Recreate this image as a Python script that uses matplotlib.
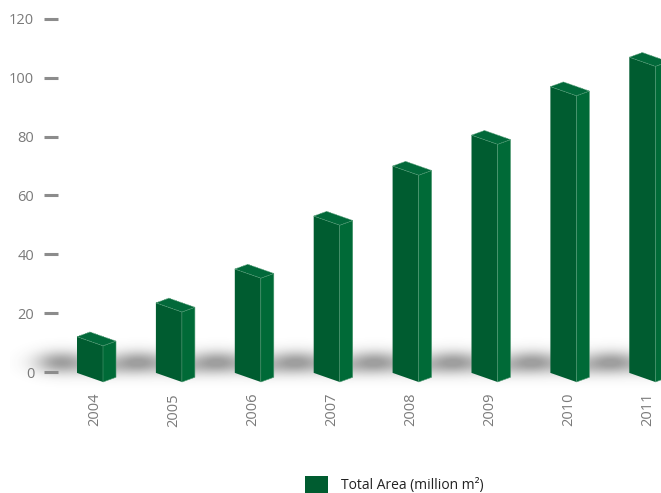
import numpy as np
import matplotlib.pyplot as plt
from matplotlib.patches import Polygon, Rectangle

years = ['2004', '2005', '2006', '2007', '2008', '2009', '2010', '2011']
total_area = [12, 23.5, 35, 53, 70, 80.5, 97, 107]
yticks = [0, 20, 40, 60, 80, 100, 120]
legend_label = 'Total Area (million m\u00b2)'

plt.rcParams['font.family'] = ['Open Sans', 'DejaVu Sans']

W, H = 661, 493
fig = plt.figure(figsize=(W / 100, H / 100), dpi=100)
left_px = 50.5
ax = fig.add_axes([left_px / W, 0, 1 - left_px / W, 1])

# pixel <-> data helpers (x: one slot = 78.9 px, y: 1 unit = 2.94 px)
slot = 78.9
ppu = 2.9417
ax.set_xlim((left_px - 95) / slot, (W - 95) / slot)
ax.set_ylim((372 - H) / ppu, 372 / ppu)
for s in ax.spines.values():
    s.set_visible(False)
ax.set_xticks([])
ax.set_yticks(yticks)
ax.tick_params(axis='y', direction='inout', length=9.4, width=2.2,
               color='#8c8c8c', labelcolor='#7a7a7a', labelsize=10.5, pad=7)

# soft ground shadow (drawn a bit outside the axes on the left)
xs = np.linspace((10 - 95) / slot, (W - 95) / slot, 800)
ys = np.linspace(-14, 20, 200)
X, Y = np.meshgrid(xs, ys)
yc = 3.0
shade = np.zeros_like(X)
for i, v in enumerate(total_area):
    cx = i - 0.45
    shade += 0.75 * np.exp(-((X - cx) / 0.32) ** 2 - ((Y - yc) / 3.8) ** 2)
    shade += 0.30 * np.exp(-((X - i - 0.1) / 0.30) ** 2 - ((Y - yc + 2.0) / 3.2) ** 2)
band = 0.28 * np.exp(-((Y - yc) / 4.0) ** 2)
band *= 1 / (1 + np.exp(-(X - (45 - 95) / slot) / 0.1))
shade = np.clip(shade + band, 0, 1)
rgba = np.zeros(X.shape + (4,))
rgba[..., :3] = 0.25
rgba[..., 3] = shade * 0.5
im = ax.imshow(rgba, extent=(xs[0], xs[-1], ys[0], ys[-1]), origin='lower',
               aspect='auto', zorder=1, interpolation='bilinear')
im.set_clip_on(False)
ax.set_xlim((left_px - 95) / slot, (W - 95) / slot)
ax.set_ylim((372 - H) / ppu, 372 / ppu)

front_c = '#005c30'
side_c = '#006a37'
top_c = '#02693a'
edge_c = '#4f9a72'
fw = 26 / slot
dx, dy = 13 / slot, 1.6
drop = 3.1
base = -0.3

for i, v in enumerate(total_area):
    xl = i - 18 / slot
    xr = xl + fw
    front = [(xl, base), (xr, base - drop), (xr, v - drop), (xl, v)]
    side = [(xr, base - drop), (xr + dx, base - drop + dy),
            (xr + dx, v - drop + dy), (xr, v - drop)]
    top = [(xl, v), (xr, v - drop), (xr + dx, v - drop + dy), (xl + dx, v + dy)]
    ax.add_patch(Polygon(front, closed=True, fc=front_c, ec='none', zorder=3))
    ax.add_patch(Polygon(side, closed=True, fc=side_c, ec=edge_c, lw=0.4, zorder=3))
    ax.add_patch(Polygon(top, closed=True, fc=top_c, ec=edge_c, lw=0.5,
                         ls=(0, (2, 1)), zorder=4))
    ax.text(i, (372 - 393) / ppu, years[i], rotation=90, ha='center', va='top',
            fontsize=10.5, color='#7a7a7a')

# legend
fig.patches.append(Rectangle((305 / W, 0), 23 / W, 17 / H, transform=fig.transFigure,
                             fc='#005c30', ec='none'))
fig.text(341 / W, 4 / H, legend_label, fontsize=10, color='#222222', va='baseline')

fig.savefig('out.png', dpi=100)
